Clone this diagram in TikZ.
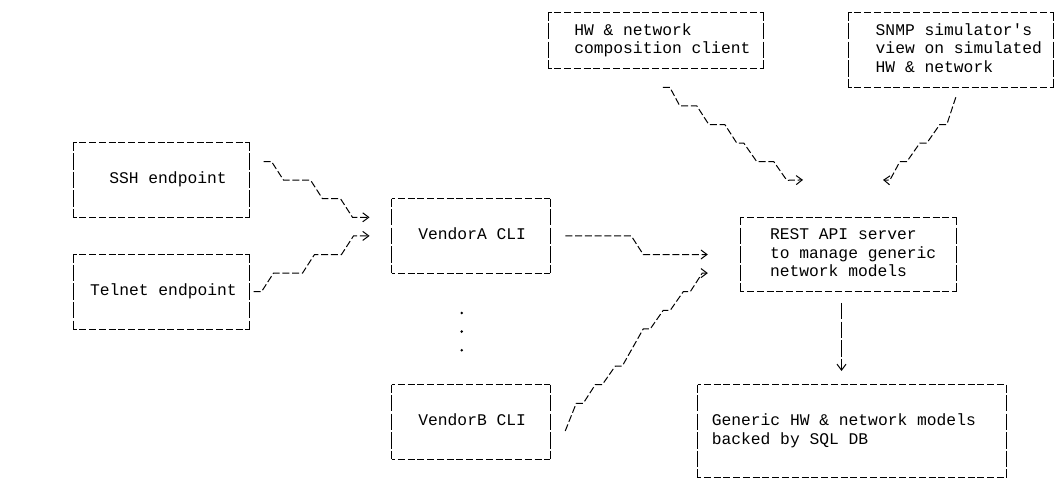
\documentclass[tikz,border=0pt]{standalone}
\usepackage{fontspec}
\setmonofont{Liberation Mono}
\usetikzlibrary{arrows.meta}
\newcommand{\inbox}[2]{\makebox[#1][l]{\begin{tabular}{@{}l@{}}#2\end{tabular}}}

\begin{document}
\begin{tikzpicture}[x=1pt, y=-1pt, font=\ttfamily\fontsize{16.3}{18.6}\selectfont,
    hdash/.style={draw, line width=1pt, dash pattern=on 7pt off 2.77pt, dash phase=3.5pt},
    vdash/.style={draw, line width=1pt, dash pattern=on 16.4pt off 2.2pt, dash phase=8.2pt},
    box/.style={inner sep=0pt, append after command={
        (\tikzlastnode.north west) edge[hdash] (\tikzlastnode.north east)
        (\tikzlastnode.south west) edge[hdash] (\tikzlastnode.south east)
        (\tikzlastnode.north west) edge[vdash] (\tikzlastnode.south west)
        (\tikzlastnode.north east) edge[vdash] (\tikzlastnode.south east)}},
    link/.style={line width=1pt, dash pattern=on 7pt off 2.77pt,
        -{Straight Barb[length=6pt, width=9pt]}},
    vlink/.style={link, dash pattern=on 16.4pt off 2.2pt}]

\path[use as bounding box, fill=white] (0,0) rectangle (1059,493);

% boxes
\node[box, minimum width=215pt, minimum height=55.8pt] (hwc) at (655.8,40.6)
    {\inbox{163pt}{HW \& network\\composition client}};
\node[box, minimum width=205pt, minimum height=74.4pt] (snmp) at (950.8,49.9)
    {\inbox{150.2pt}{SNMP simulator's\\view on simulated\\HW \& network}};
\node[box, minimum width=176pt, minimum height=74.4pt] (ssh) at (161.3,180.1)
    {\inbox{104pt}{SSH endpoint}};
\node[box, minimum width=176pt, minimum height=74.4pt] (telnet) at (161.3,291.7)
    {\inbox{142.6pt}{Telnet endpoint}};
\node[box, minimum width=158.3pt, minimum height=74.4pt] (vena) at (470.9,235.9)
    {\inbox{105.1pt}{VendorA CLI}};
\node[box, minimum width=158.3pt, minimum height=74.4pt] (venb) at (470.9,421.9)
    {\inbox{105.1pt}{VendorB CLI}};
\node[box, minimum width=215pt, minimum height=74.4pt] (rest) at (848.5,254.5)
    {\inbox{157pt}{REST API server\\to manage generic\\network models}};
\node[box, minimum width=308.3pt, minimum height=93pt] (db) at (851.9,431.2)
    {\inbox{280.3pt}{Generic HW \& network models\\backed by SQL DB}};

% more vendors
\foreach \y in {313,331.6,350.2}
    \fill (461.7,\y) circle (1.4);

% connectors
\draw[link] ([xshift=14pt,yshift=18.6pt]ssh.east) -- ++(8,0) -- ++(12,18.6) -- ++(27,0)
    -- ++(12,18.6) -- ++(18,0) -- ++(12,18.6) -- ([xshift=-22pt,yshift=18.6pt]vena.west);
\draw[link] ([xshift=4pt]telnet.east) -- ++(8,0) -- ++(12,-18.6) -- ++(29,0)
    -- ++(12,-18.6) -- ++(27,0) -- ++(12,-18.6) -- ([xshift=-22pt]vena.west);
\draw[link] ([xshift=15pt]vena.east) -- ++(66,0) -- ++(12,18.6) -- ([xshift=-33pt]rest.west);
\draw[link] ([xshift=15pt,yshift=-9pt]venb.east) -- ++(11,-27.6) -- ++(7,0) -- ++(12,-18.6)
    -- ++(7,0) -- ++(13,-18.6) -- ++(7,0) -- ++(21,-37.2) -- ++(7,0) -- ++(13,-18.6)
    -- ++(7,0) -- ++(13,-18.6) -- ++(7,0) -- ++(12,-18.6) -- ([xshift=-33pt,yshift=-18.6pt]rest.west);
\draw[link] ([xshift=7pt,yshift=-18.6pt]hwc.south) -- ++(7,0) -- ++(10,18.6) -- ++(17,0)
    -- ++(12,18.6) -- ++(16,0) -- ++(12,18.6) -- ++(7,0) -- ++(13,18.6) -- ++(17,0)
    -- ++(13,18.6) -- ([xshift=-45.5pt,yshift=37.2pt]rest.north);
\draw[link] ([xshift=5pt,yshift=-10pt]snmp.south) -- ++(-9,27.2) -- ++(-7,0) -- ++(-13,18.6)
    -- ++(-7,0) -- ++(-13,18.6) -- ++(-7,0) -- ++(-10,18.6) -- ([xshift=34.5pt,yshift=37.2pt]rest.north);
\draw[vlink] ([xshift=-7pt,yshift=-11pt]rest.south) -- ([xshift=-10.4pt,yshift=13.5pt]db.north);
\end{tikzpicture}
\end{document}
